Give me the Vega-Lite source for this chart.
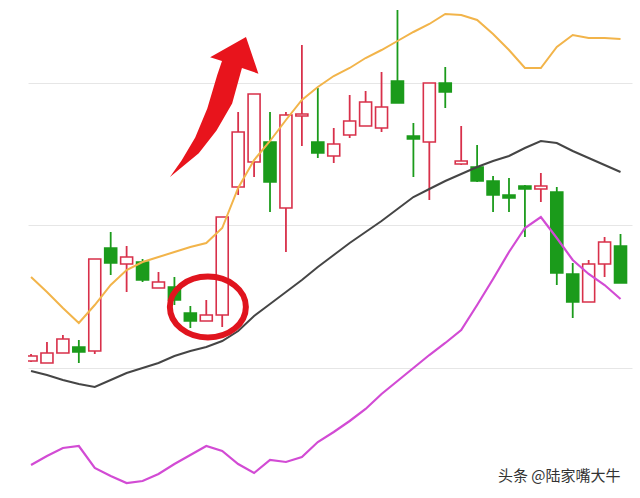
{
  "$schema": "https://vega.github.io/schema/vega-lite/v6.json",
  "width": 640,
  "height": 498,
  "autosize": {"type": "fit", "contains": "padding"},
  "padding": {"left": 28, "right": 8, "top": 0, "bottom": 0},
  "background": "white",
  "config": {
    "view": {"stroke": null},
    "axisY": {"grid": true, "gridColor": "#e6e6e6", "gridWidth": 1, "labels": false, "ticks": false, "domain": false, "title": null}
  },
  "datasets": {
    "candles": [
      {"i":0,"o":12.78,"h":12.92,"l":12.76,"c":12.88},
      {"i":1,"o":12.74,"h":13.16,"l":12.74,"c":12.94},
      {"i":2,"o":12.94,"h":13.30,"l":12.94,"c":13.22},
      {"i":3,"o":13.06,"h":13.20,"l":12.74,"c":12.96},
      {"i":4,"o":12.98,"h":14.82,"l":12.92,"c":14.82},
      {"i":5,"o":15.04,"h":15.36,"l":14.50,"c":14.74},
      {"i":6,"o":14.72,"h":15.08,"l":14.16,"c":14.86},
      {"i":7,"o":14.76,"h":14.82,"l":14.36,"c":14.40},
      {"i":8,"o":14.24,"h":14.56,"l":14.24,"c":14.36},
      {"i":9,"o":14.26,"h":14.46,"l":13.90,"c":14.00},
      {"i":10,"o":13.74,"h":13.88,"l":13.44,"c":13.58},
      {"i":11,"o":13.58,"h":14.00,"l":13.58,"c":13.70},
      {"i":12,"o":13.70,"h":15.66,"l":13.46,"c":15.66},
      {"i":13,"o":16.26,"h":17.76,"l":16.10,"c":17.36},
      {"i":14,"o":16.76,"h":18.12,"l":16.46,"c":18.12},
      {"i":15,"o":17.16,"h":17.76,"l":15.76,"c":16.36},
      {"i":16,"o":15.84,"h":17.76,"l":14.96,"c":17.70},
      {"i":17,"o":17.68,"h":19.10,"l":17.08,"c":17.72},
      {"i":18,"o":17.16,"h":18.24,"l":16.84,"c":16.94},
      {"i":19,"o":16.88,"h":17.44,"l":16.74,"c":17.12},
      {"i":20,"o":17.30,"h":18.10,"l":17.24,"c":17.58},
      {"i":21,"o":17.48,"h":18.18,"l":17.48,"c":17.96},
      {"i":22,"o":17.44,"h":18.56,"l":17.36,"c":17.86},
      {"i":23,"o":18.38,"h":19.80,"l":17.94,"c":17.94},
      {"i":24,"o":17.28,"h":17.54,"l":16.46,"c":17.22},
      {"i":25,"o":17.16,"h":18.34,"l":16.00,"c":18.34},
      {"i":26,"o":18.34,"h":18.66,"l":17.84,"c":18.16},
      {"i":27,"o":16.72,"h":17.48,"l":16.70,"c":16.78},
      {"i":28,"o":16.66,"h":17.10,"l":16.36,"c":16.38},
      {"i":29,"o":16.38,"h":16.48,"l":15.76,"c":16.10},
      {"i":30,"o":16.10,"h":16.44,"l":15.76,"c":16.04},
      {"i":31,"o":16.28,"h":16.30,"l":15.26,"c":16.22},
      {"i":32,"o":16.22,"h":16.54,"l":15.96,"c":16.28},
      {"i":33,"o":16.16,"h":16.26,"l":14.30,"c":14.54},
      {"i":34,"o":14.52,"h":14.74,"l":13.64,"c":13.96},
      {"i":35,"o":13.96,"h":14.80,"l":13.96,"c":14.72},
      {"i":36,"o":14.72,"h":15.26,"l":14.46,"c":15.16},
      {"i":37,"o":15.08,"h":15.32,"l":14.34,"c":14.34}
    ],
    "bands": [
      {"i":0,"upper":14.46,"mid":12.58,"lower":10.70},
      {"i":1,"upper":14.16,"mid":12.50,"lower":10.88},
      {"i":2,"upper":13.84,"mid":12.40,"lower":11.04},
      {"i":3,"upper":13.54,"mid":12.32,"lower":11.08},
      {"i":4,"upper":13.90,"mid":12.26,"lower":10.64},
      {"i":5,"upper":14.30,"mid":12.40,"lower":10.48},
      {"i":6,"upper":14.60,"mid":12.54,"lower":10.34},
      {"i":7,"upper":14.76,"mid":12.64,"lower":10.38},
      {"i":8,"upper":14.86,"mid":12.74,"lower":10.52},
      {"i":9,"upper":14.96,"mid":12.88,"lower":10.72},
      {"i":10,"upper":15.06,"mid":12.98,"lower":10.90},
      {"i":11,"upper":15.14,"mid":13.06,"lower":11.08},
      {"i":12,"upper":15.44,"mid":13.18,"lower":10.98},
      {"i":13,"upper":16.24,"mid":13.38,"lower":10.72},
      {"i":14,"upper":16.80,"mid":13.68,"lower":10.54},
      {"i":15,"upper":17.18,"mid":13.92,"lower":10.80},
      {"i":16,"upper":17.60,"mid":14.16,"lower":10.76},
      {"i":17,"upper":18.00,"mid":14.40,"lower":10.86},
      {"i":18,"upper":18.26,"mid":14.66,"lower":11.16},
      {"i":19,"upper":18.48,"mid":14.90,"lower":11.36},
      {"i":20,"upper":18.64,"mid":15.14,"lower":11.58},
      {"i":21,"upper":18.84,"mid":15.36,"lower":11.82},
      {"i":22,"upper":19.00,"mid":15.58,"lower":12.12},
      {"i":23,"upper":19.18,"mid":15.82,"lower":12.38},
      {"i":24,"upper":19.36,"mid":16.06,"lower":12.64},
      {"i":25,"upper":19.52,"mid":16.22,"lower":12.90},
      {"i":26,"upper":19.72,"mid":16.38,"lower":13.14},
      {"i":27,"upper":19.70,"mid":16.52,"lower":13.40},
      {"i":28,"upper":19.60,"mid":16.66,"lower":13.90},
      {"i":29,"upper":19.32,"mid":16.78,"lower":14.42},
      {"i":30,"upper":19.00,"mid":16.88,"lower":14.96},
      {"i":31,"upper":18.64,"mid":17.04,"lower":15.44},
      {"i":32,"upper":18.64,"mid":17.18,"lower":15.66},
      {"i":33,"upper":19.06,"mid":17.14,"lower":15.24},
      {"i":34,"upper":19.30,"mid":16.98,"lower":14.80},
      {"i":35,"upper":19.24,"mid":16.84,"lower":14.52},
      {"i":36,"upper":19.24,"mid":16.70,"lower":14.30},
      {"i":37,"upper":19.22,"mid":16.56,"lower":14.02}
    ]
  },
  "layer": [
    {
      "data": {"name": "candles"},
      "mark": {"type": "rule", "strokeWidth": 1.8, "clip": true},
      "encoding": {
        "x": {"field": "i", "type": "quantitative", "scale": {"domain": [0.1235, 37.407], "nice": false, "zero": false}, "axis": null},
        "y": {"field": "l", "type": "quantitative", "scale": {"domain": [10.04, 20], "nice": false, "zero": false}, "axis": {"values": [12.64, 15.5, 18.34]}},
        "y2": {"field": "h"},
        "color": {"condition": {"test": "datum.c >= datum.o", "value": "#d8304a"}, "value": "#1b9b1b"}
      }
    },
    {
      "data": {"name": "candles"},
      "mark": {"type": "bar", "width": 12, "strokeWidth": 1.6, "clip": true},
      "encoding": {
        "x": {"field": "i", "type": "quantitative", "axis": null},
        "y": {"field": "o", "type": "quantitative", "axis": {"values": [12.64, 15.5, 18.34]}},
        "y2": {"field": "c"},
        "fill": {"condition": {"test": "datum.c >= datum.o", "value": "white"}, "value": "#1b9b1b"},
        "stroke": {"condition": {"test": "datum.c >= datum.o", "value": "#d8304a"}, "value": "#1b9b1b"}
      }
    },
    {
      "data": {"name": "bands"},
      "mark": {"type": "line", "color": "#f2b44a", "strokeWidth": 2, "clip": true},
      "encoding": {
        "x": {"field": "i", "type": "quantitative", "axis": null},
        "y": {"field": "upper", "type": "quantitative", "axis": {"values": [12.64, 15.5, 18.34]}}
      }
    },
    {
      "data": {"name": "bands"},
      "mark": {"type": "line", "color": "#454545", "strokeWidth": 2, "clip": true},
      "encoding": {
        "x": {"field": "i", "type": "quantitative", "axis": null},
        "y": {"field": "mid", "type": "quantitative", "axis": {"values": [12.64, 15.5, 18.34]}}
      }
    },
    {
      "data": {"name": "bands"},
      "mark": {"type": "line", "color": "#d24bd4", "strokeWidth": 2.2, "clip": true},
      "encoding": {
        "x": {"field": "i", "type": "quantitative", "axis": null},
        "y": {"field": "lower", "type": "quantitative", "axis": {"values": [12.64, 15.5, 18.34]}}
      }
    },
    {
      "data": {"values": [{"i": 11.42, "p": 17.86}]},
      "mark": {"type": "point", "filled": true, "opacity": 1, "fill": "#e8141c", "strokeWidth": 0, "size": 20164,
               "shape": "M 0.465 -0.986 L 0.64 -0.47 L 0.408 -0.549 L 0.27 -0.05 L 0.05 0.33 L -0.2 0.65 L -0.606 0.986 L -0.44 0.75 L -0.25 0.43 L -0.08 0.02 L 0.06 -0.45 L 0.127 -0.648 L -0.04 -0.7 Z"},
      "encoding": {
        "x": {"field": "i", "type": "quantitative", "axis": null},
        "y": {"field": "p", "type": "quantitative", "axis": {"values": [12.64, 15.5, 18.34]}}
      }
    },
    {
      "data": {"values": [{"i": 11.1, "p": 13.86}]},
      "mark": {"type": "point", "filled": false, "opacity": 1, "stroke": "#e0141e", "strokeWidth": 6, "size": 5776,
               "shape": "M -1 0 A 1 0.8 0 1 1 1 0 A 1 0.8 0 1 1 -1 0 Z"},
      "encoding": {
        "x": {"field": "i", "type": "quantitative", "axis": null},
        "y": {"field": "p", "type": "quantitative", "axis": {"values": [12.64, 15.5, 18.34]}}
      }
    },
    {
      "data": {"values": [{"i": 37.0, "p": 10.48, "label": "头条 @陆家嘴大牛"}]},
      "mark": {"type": "text", "align": "right", "baseline": "middle", "font": "Noto Sans CJK SC", "fontSize": 15, "color": "#333333"},
      "encoding": {
        "x": {"field": "i", "type": "quantitative", "axis": null},
        "y": {"field": "p", "type": "quantitative", "axis": {"values": [12.64, 15.5, 18.34]}},
        "text": {"field": "label"}
      }
    }
  ]
}
